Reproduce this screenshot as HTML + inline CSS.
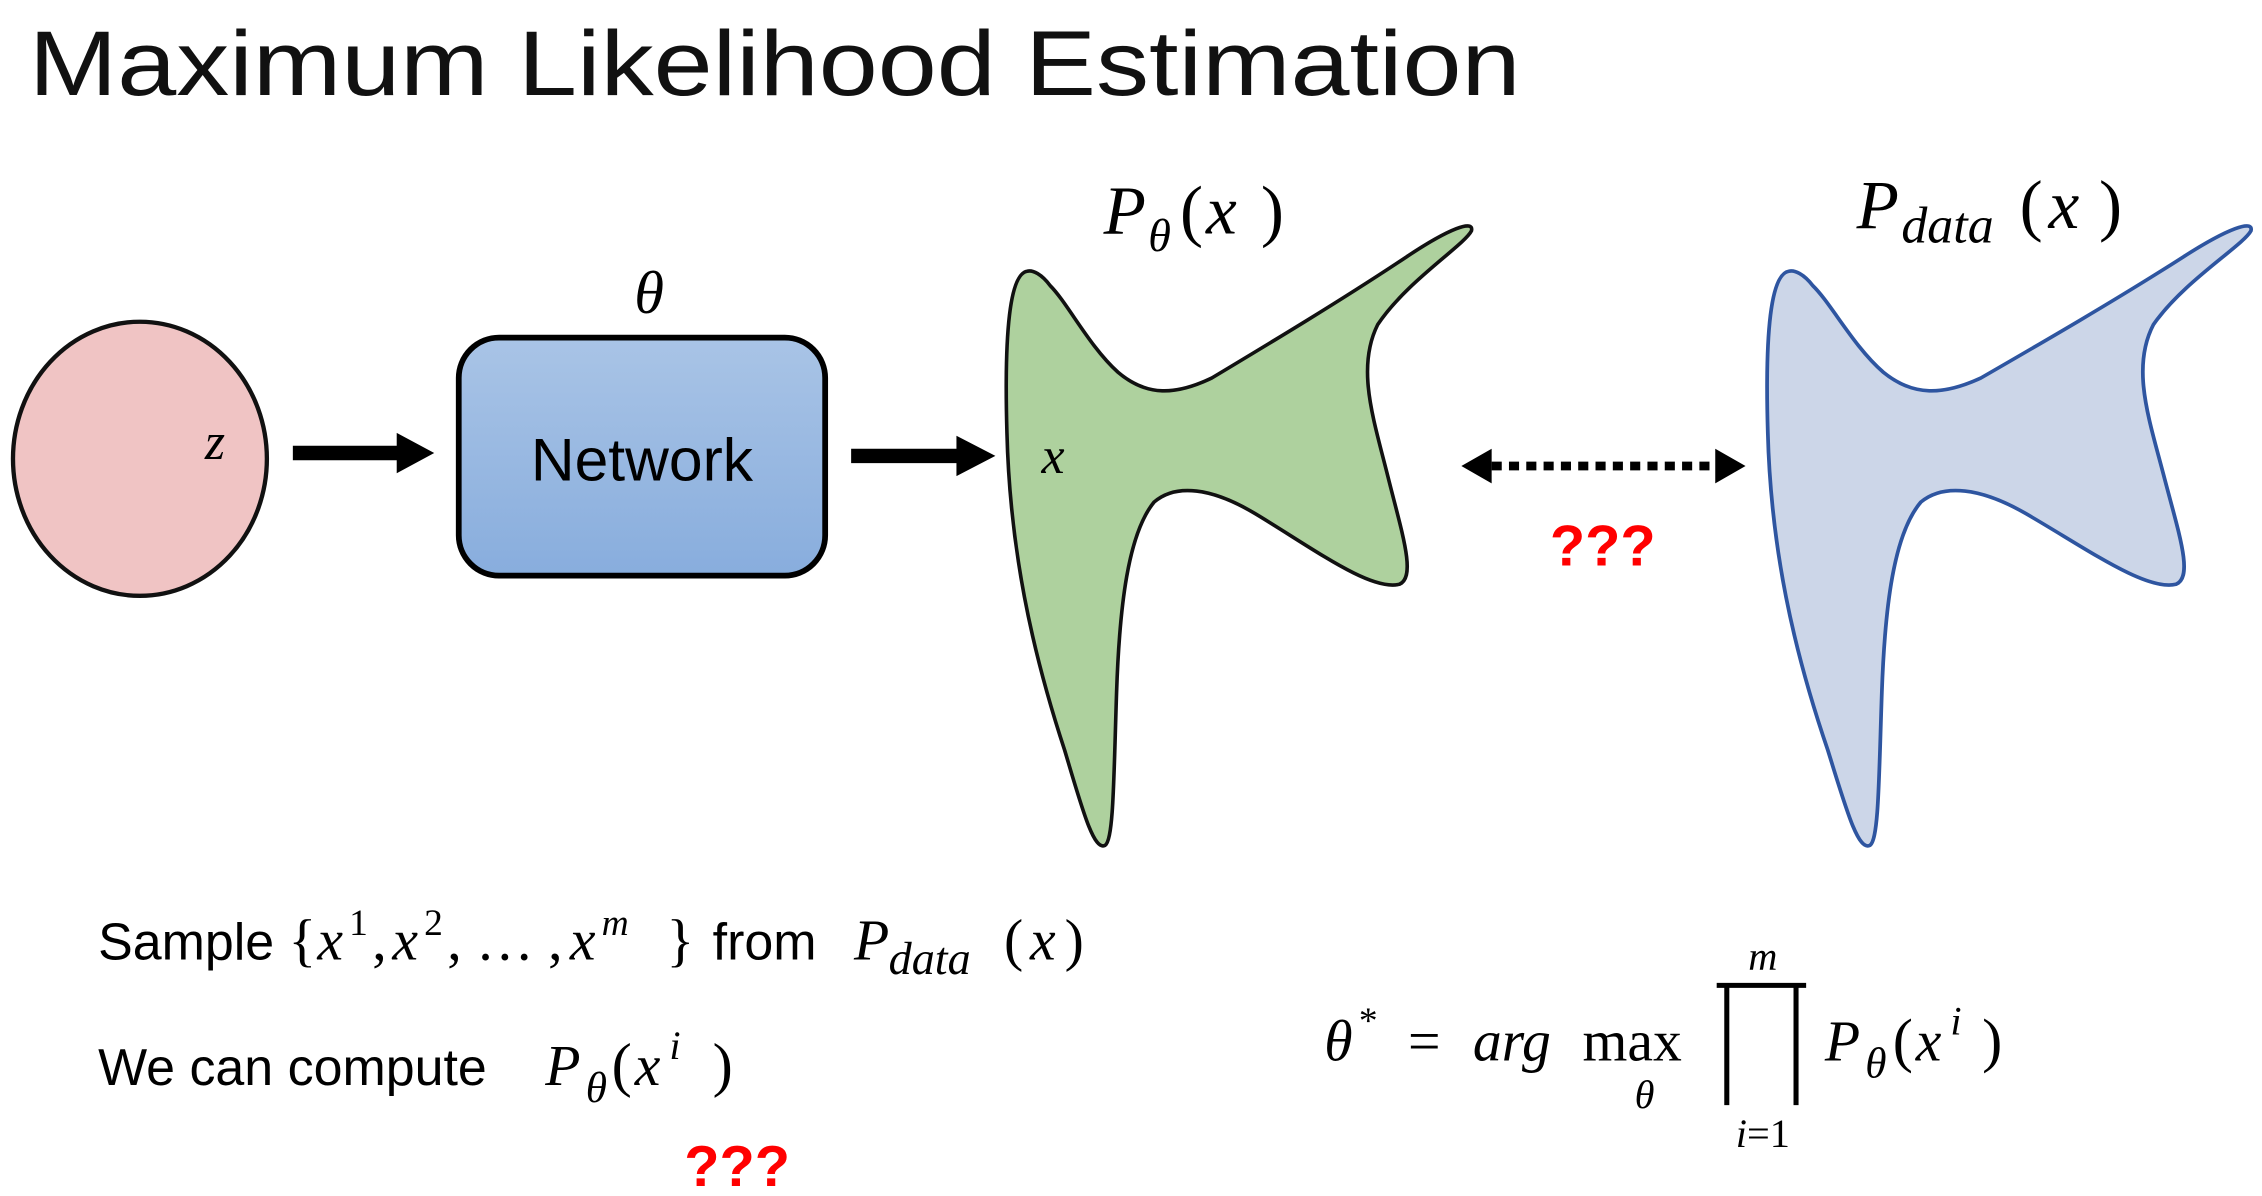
<!DOCTYPE html>
<html><head><meta charset="utf-8"><style>
html,body{margin:0;padding:0;background:#fff;}
svg{display:block;}
.s{font-family:"Liberation Sans",sans-serif;}
.m{font-family:"Liberation Serif",serif;font-style:italic;}
.r{font-family:"Liberation Serif",serif;}
</style></head><body>
<svg width="2262" height="1196" viewBox="0 0 1568 829" xmlns="http://www.w3.org/2000/svg">
<defs>
<linearGradient id="g" x1="0" y1="0" x2="0" y2="1"><stop offset="0" stop-color="#a9c4e6"/><stop offset="1" stop-color="#88addd"/></linearGradient>
<path id="shape" d="M712,188 C700,190 696,230 698,300 C700,380 715,450 738,520 C750,560 758,590 766,586 C772,582 772,540 774,480 C776,420 782,370 800,348 C815,335 840,338 870,356 C910,380 950,410 970,405 C982,400 972,370 962,330 C952,290 940,255 955,225 C975,195 1015,170 1020,160 C1022,152 1005,158 975,178 C930,208 880,238 840,262 C815,274 795,275 775,258 C755,240 740,210 728,198 C722,190 716,187 712,188 Z"/>
</defs>
<text x="20" y="66" class="s" font-size="64" textLength="1034" lengthAdjust="spacingAndGlyphs" fill="#111">Maximum Likelihood Estimation</text>

<ellipse cx="97" cy="318" rx="88" ry="95" fill="#f0c4c4" stroke="#111" stroke-width="3"/>
<text x="142" y="318" class="m" font-size="36">z</text>

<path d="M203,309 H275 V300 L301,314 L275,328 V319 H203 Z" fill="#000"/>
<rect x="318" y="234" width="254" height="165" rx="28" fill="url(#g)" stroke="#000" stroke-width="4"/>
<text x="445" y="333" class="s" font-size="42" text-anchor="middle" fill="#000">Network</text>
<text x="450" y="217" class="m" font-size="42" text-anchor="middle">θ</text>
<path d="M590,311 H663 V302 L690,316 L663,330 V321 H590 Z" fill="#000"/>

<use href="#shape" fill="#aed19e" stroke="#111" stroke-width="2.5"/>
<text x="722" y="328" class="m" font-size="36">x</text>
<use href="#shape" transform="translate(1240,0) scale(1.04,1) translate(-712,0)" fill="#ccd6e8" stroke="#2e55a0" stroke-width="2.5"/>

<text x="765" y="162" class="m" font-size="48">P</text>
<text x="796" y="174" class="m" font-size="32">θ</text>
<text x="818" y="162" class="r" font-size="48">(</text><text x="836" y="162" class="m" font-size="48">x</text><text x="874" y="162" class="r" font-size="48">)</text>
<text x="1287" y="158" class="m" font-size="48">P</text>
<text x="1318" y="168" class="m" font-size="36">data</text>
<text x="1400" y="158" class="r" font-size="48">(</text><text x="1420" y="158" class="m" font-size="48">x</text><text x="1455" y="158" class="r" font-size="48">)</text>

<path d="M1013,323 L1034,311 V335 Z M1210,323 L1189,311 V335 Z" fill="#000"/>
<line x1="1034" y1="323" x2="1189" y2="323" stroke="#000" stroke-width="6" stroke-dasharray="7,5"/>
<text x="1111" y="392" class="s" font-size="40" font-weight="bold" text-anchor="middle" fill="#ff0000">???</text>

<text x="68" y="665" class="s" font-size="36">Sample</text>
<text x="200" y="665" class="r" font-size="40">{</text><text x="220" y="665" class="m" font-size="40">x</text><text x="242" y="648" class="r" font-size="26">1</text>
<text x="258" y="665" class="r" font-size="40">,</text><text x="272" y="665" class="m" font-size="40">x</text><text x="294" y="648" class="r" font-size="26">2</text>
<text x="310" y="665" class="r" font-size="40">, … ,</text><text x="395" y="665" class="m" font-size="40">x</text><text x="417" y="648" class="m" font-size="26">m</text>
<text x="462" y="665" class="r" font-size="40">}</text>
<text x="494" y="665" class="s" font-size="36">from</text>
<text x="592" y="665" class="m" font-size="40">P</text><text x="616" y="675" class="m" font-size="32">data</text>
<text x="696" y="665" class="r" font-size="40">(</text><text x="714" y="665" class="m" font-size="40">x</text><text x="738" y="665" class="r" font-size="40">)</text>

<text x="68" y="752" class="s" font-size="36">We can compute</text>
<text x="378" y="752" class="m" font-size="40">P</text><text x="406" y="764" class="m" font-size="30">θ</text>
<text x="424" y="752" class="r" font-size="42">(</text><text x="440" y="752" class="m" font-size="40">x</text><text x="464" y="734" class="m" font-size="28">i</text><text x="494" y="752" class="r" font-size="42">)</text>
<text x="511" y="822" class="s" font-size="40" font-weight="bold" text-anchor="middle" fill="#ff0000">???</text>

<text x="918" y="735" class="m" font-size="40">θ</text><text x="942" y="716" class="r" font-size="26">*</text>
<text x="976" y="735" class="r" font-size="40">=</text>
<text x="1021" y="735" class="m" font-size="40">arg</text>
<text x="1097" y="735" class="r" font-size="40">max</text>
<text x="1140" y="768" class="m" font-size="28" text-anchor="middle">θ</text>
<path d="M1190,683 H1252 M1197,683 V766 M1245,683 V766" stroke="#000" stroke-width="3.5" fill="none"/>
<text x="1222" y="672" class="m" font-size="28" text-anchor="middle">m</text>
<text x="1222" y="795" class="r" font-size="28" text-anchor="middle"><tspan class="m" font-style="italic">i</tspan>=1</text>
<text x="1265" y="735" class="m" font-size="40">P</text><text x="1293" y="747" class="m" font-size="30">θ</text>
<text x="1312" y="735" class="r" font-size="42">(</text><text x="1328" y="735" class="m" font-size="40">x</text><text x="1352" y="717" class="m" font-size="28">i</text><text x="1374" y="735" class="r" font-size="42">)</text>
</svg>
</body></html>
